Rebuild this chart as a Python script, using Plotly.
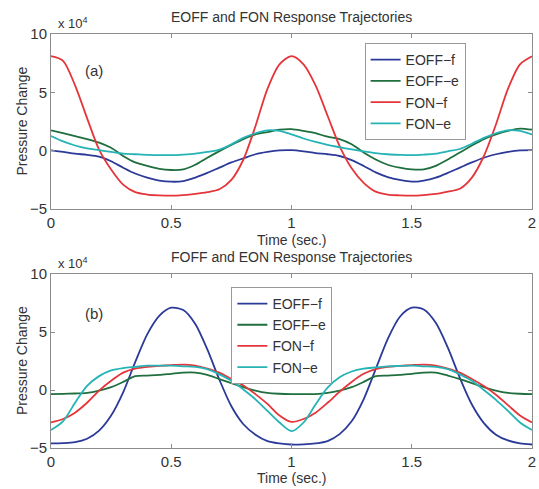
import plotly.graph_objects as go

# time axis (sec.)
t = [0, 0.05, 0.1, 0.15, 0.2, 0.25, 0.3, 0.35, 0.4, 0.45, 0.5, 0.55, 0.6, 0.65, 0.7, 0.75, 0.8, 0.85, 0.9, 0.95,
     1.0, 1.05, 1.1, 1.15, 1.2, 1.25, 1.3, 1.35, 1.4, 1.45, 1.5, 1.55, 1.6, 1.65, 1.7, 1.75, 1.8, 1.85, 1.9, 1.95, 2.0]

# Panel (a): EOFF and FON response trajectories (units of 1e4)
a_eoff_f = [0.03, -0.1, -0.25, -0.35, -0.5, -0.9, -1.45, -1.95, -2.3, -2.55, -2.65, -2.6, -2.3, -1.9, -1.45, -1.0, -0.65, -0.3, -0.1, 0.03,
            0.05, -0.05, -0.2, -0.3, -0.45, -0.8, -1.3, -1.85, -2.25, -2.5, -2.65, -2.55, -2.3, -1.9, -1.45, -1.0, -0.6, -0.3, -0.1, 0.03, 0.05]
a_eoff_e = [1.75, 1.5, 1.26, 1.0, 0.7, 0.25, -0.45, -1.0, -1.3, -1.55, -1.65, -1.6, -1.2, -0.6, -0.03, 0.5, 1.0, 1.4, 1.6, 1.8,
            1.85, 1.7, 1.5, 1.2, 1.0, 0.55, -0.15, -0.75, -1.2, -1.45, -1.6, -1.6, -1.3, -0.75, -0.15, 0.45, 1.0, 1.4, 1.7, 1.9, 1.8]
a_fon_f = [8.1, 7.7, 5.6, 2.8, 0.1, -1.6, -2.9, -3.55, -3.75, -3.82, -3.85, -3.8, -3.7, -3.55, -3.3, -2.5, -0.75, 2.1, 5.3, 7.4,
           8.1, 7.4, 5.6, 3.0, 0.4, -1.5, -2.75, -3.5, -3.75, -3.82, -3.85, -3.8, -3.7, -3.5, -3.25, -2.3, -0.45, 2.25, 5.3, 7.4, 8.1]
a_fon_e = [1.26, 0.8, 0.45, 0.2, 0.05, -0.1, -0.25, -0.3, -0.35, -0.37, -0.38, -0.33, -0.25, -0.1, 0.1, 0.55, 1.1, 1.5, 1.75, 1.7,
           1.4, 1.05, 0.75, 0.5, 0.3, 0.12, -0.05, -0.2, -0.3, -0.35, -0.38, -0.33, -0.25, -0.05, 0.15, 0.6, 1.1, 1.5, 1.75, 1.7, 1.4]

# Panel (b): FOFF and EON response trajectories (units of 1e4)
b_eoff_f = [-4.6, -4.58, -4.5, -4.2, -3.5, -2.2, -0.2, 2.4, 4.8, 6.4, 7.1, 6.9, 5.7, 3.5, 0.9, -1.4, -2.95, -3.85, -4.4, -4.6,
            -4.7, -4.68, -4.6, -4.4, -3.8, -2.7, -0.8, 1.8, 4.4, 6.3, 7.1, 6.95, 5.8, 3.65, 1.05, -1.25, -2.85, -3.85, -4.35, -4.6, -4.7]
b_eoff_e = [-0.35, -0.33, -0.3, -0.25, -0.05, 0.25, 0.7, 1.2, 1.25, 1.3, 1.4, 1.5, 1.5, 1.3, 0.95, 0.6, 0.25, -0.05, -0.25, -0.32,
            -0.35, -0.36, -0.35, -0.25, -0.05, 0.25, 0.7, 1.2, 1.25, 1.3, 1.4, 1.5, 1.5, 1.25, 0.95, 0.6, 0.25, -0.05, -0.25, -0.32, -0.35]
b_fon_f = [-2.8, -2.5, -1.95, -1.1, -0.05, 0.8, 1.5, 1.85, 2.0, 2.08, 2.15, 2.2, 2.1, 1.85, 1.5, 0.95, 0.4, -0.35, -1.2, -2.2,
           -2.75, -2.5, -1.95, -1.1, -0.15, 0.7, 1.4, 1.8, 2.0, 2.08, 2.15, 2.2, 2.1, 1.85, 1.5, 0.95, 0.35, -0.4, -1.3, -2.2, -2.8]
b_fon_e = [-3.45, -2.7, -1.1, 0.35, 1.2, 1.7, 1.9, 2.0, 2.1, 2.1, 2.1, 2.05, 2.0, 1.8, 1.35, 0.8, 0.05, -0.8, -1.8, -2.8,
           -3.55, -2.8, -1.25, 0.2, 1.1, 1.6, 1.85, 1.95, 2.05, 2.08, 2.1, 2.05, 2.0, 1.8, 1.35, 0.8, 0.0, -0.85, -1.8, -2.8, -3.45]

names = ["EOFF\u2212f", "EOFF\u2212e", "FON\u2212f", "FON\u2212e"]
colors = ["#2b3a98", "#1f6e3e", "#e4363a", "#25b3b6"]

x_ticks = [0, 0.5, 1, 1.5, 2]
x_ticktext = ["0", "0.5", "1", "1.5", "2"]
y_ticks = [-5, 0, 5, 10]
y_ticktext = ["\u22125", "0", "5", "10"]

FONT = "Liberation Sans, Arial, sans-serif"
TXT = "#333333"
AXC = "#8c8c8c"

fig = go.Figure()
for series, name, col in zip([a_eoff_f, a_eoff_e, a_fon_f, a_fon_e], names, colors):
    fig.add_trace(go.Scatter(x=t, y=series, name=name, mode="lines",
                             line=dict(color=col, width=1.8, shape="spline", smoothing=0.8),
                             xaxis="x", yaxis="y", legend="legend"))
for series, name, col in zip([b_eoff_f, b_eoff_e, b_fon_f, b_fon_e], names, colors):
    fig.add_trace(go.Scatter(x=t, y=series, name=name, mode="lines",
                             line=dict(color=col, width=1.8, shape="spline", smoothing=0.8),
                             xaxis="x2", yaxis="y2", legend="legend2"))

axis_common = dict(showline=True, linecolor=AXC, linewidth=1, mirror="ticks", ticks="inside",
                   ticklen=4, tickcolor=AXC, showgrid=False, zeroline=False,
                   ticklabeloverflow="allow",
                   tickfont=dict(family=FONT, size=15, color=TXT))

legend_common = dict(font=dict(family=FONT, size=14, color=TXT), bgcolor="white",
                     bordercolor="#999999", borderwidth=1, xanchor="left", yanchor="top",
                     tracegroupgap=0, itemwidth=30)

fig.update_layout(
    width=539, height=489,
    margin=dict(l=51, r=3, t=34, b=41),
    paper_bgcolor="white", plot_bgcolor="white",
    font=dict(family=FONT, color=TXT),
    showlegend=True,
    xaxis=dict(domain=[0, 1], range=[0, 2], tickvals=x_ticks, ticktext=x_ticktext, anchor="y", **axis_common),
    yaxis=dict(domain=[0.577, 1], range=[-5, 10], tickvals=y_ticks, ticktext=y_ticktext, anchor="x", **axis_common),
    xaxis2=dict(domain=[0, 1], range=[0, 2], tickvals=x_ticks, ticktext=x_ticktext, anchor="y2", **axis_common),
    yaxis2=dict(domain=[0, 0.42], range=[-5, 10], tickvals=y_ticks, ticktext=y_ticktext, anchor="x2", **axis_common),
    legend=dict(x=0.652, y=0.978, **legend_common),
    legend2=dict(x=0.375, y=0.389, **legend_common),
)

# titles
fig.add_annotation(text="EOFF and FON Response Trajectories", xref="paper", yref="paper", x=0.5, y=1.0,
                   yshift=17, yanchor="middle", showarrow=False, font=dict(family=FONT, size=14, color=TXT))
fig.add_annotation(text="FOFF and EON Response Trajectories", xref="paper", yref="paper", x=0.5, y=0.42,
                   yshift=17, yanchor="middle", showarrow=False, font=dict(family=FONT, size=14, color=TXT))
# x-axis titles
fig.add_annotation(text="Time (sec.)", xref="paper", yref="paper", x=0.5, y=0.577,
                   yshift=-31, yanchor="middle", showarrow=False, font=dict(family=FONT, size=14, color=TXT))
fig.add_annotation(text="Time (sec.)", xref="paper", yref="paper", x=0.5, y=0.0,
                   yshift=-30, yanchor="middle", showarrow=False, font=dict(family=FONT, size=14, color=TXT))
# y-axis titles
for yc in [(1 + 0.577) / 2, 0.21]:
    fig.add_annotation(text="Pressure Change", xref="paper", yref="paper", x=0, xshift=-29, xanchor="center",
                       y=yc, yanchor="middle", textangle=-90, showarrow=False,
                       font=dict(family=FONT, size=14, color=TXT))
# exponent labels
for yt in [1.0, 0.42]:
    fig.add_annotation(text="x 10<sup>4</sup>", xref="paper", yref="paper", x=0, xshift=5, y=yt, yshift=1,
                       xanchor="left", yanchor="bottom", showarrow=False, font=dict(family=FONT, size=13, color=TXT))
# panel labels
fig.add_annotation(text="(a)", xref="x", yref="y", x=0.18, y=6.9, showarrow=False,
                   font=dict(family=FONT, size=15, color=TXT))
fig.add_annotation(text="(b)", xref="x2", yref="y2", x=0.18, y=6.6, showarrow=False,
                   font=dict(family=FONT, size=15, color=TXT))

fig.write_html("out.html", config={"displayModeBar": False},
               post_script="document.body.style.margin='0';document.body.style.overflow='hidden';")
